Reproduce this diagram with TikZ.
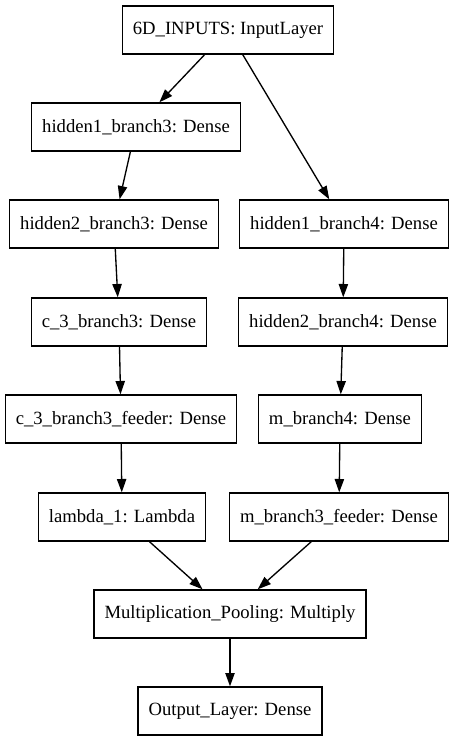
\documentclass[tikz,border=0pt]{standalone}
\usepackage{fontspec}
\setmainfont{Liberation Serif}
\usepackage{tikz}
\usetikzlibrary{arrows.meta}

\begin{document}
\begin{tikzpicture}[x=0.75pt,y=-0.75pt,
    layer/.style={draw,line width=1pt,rectangle,minimum height=36pt,
      inner xsep=7.92pt,inner ysep=0pt,font=\fontsize{14pt}{16pt}\selectfont},
    edge/.style={line width=1pt,-{Triangle[length=10pt,width=7pt]}}]
  %\draw[step=50] (0,0) grid (453,741);
  \useasboundingbox (0,0) rectangle (453,741);

  \node[layer] (inp)  at (228, 30) {6D\_INPUTS: InputLayer};

  \node[layer] (h1b3) at (136,127) {hidden1\_branch3: Dense};
  \node[layer] (h2b3) at (114,224) {hidden2\_branch3: Dense};
  \node[layer] (c3)   at (119,322) {c\_3\_branch3: Dense};
  \node[layer] (c3f)  at (121,419) {c\_3\_branch3\_feeder: Dense};
  \node[layer] (lam)  at (122,517) {lambda\_1: Lambda};

  \node[layer] (h1b4) at (344,224) {hidden1\_branch4: Dense};
  \node[layer] (h2b4) at (343,322) {hidden2\_branch4: Dense};
  \node[layer] (mb4)  at (340,419) {m\_branch4: Dense};
  \node[layer] (mb3f) at (339,517) {m\_branch3\_feeder: Dense};

  \node[layer] (mult) at (230,614) {Multiplication\_Pooling: Multiply};
  \node[layer] (out)  at (230,711) {Output\_Layer: Dense};

  \draw[edge] (inp) -- (h1b3);
  \draw[edge] (inp) -- (h1b4);
  \draw[edge] (h1b3) -- (h2b3);
  \draw[edge] (h2b3) -- (c3);
  \draw[edge] (c3) -- (c3f);
  \draw[edge] (c3f) -- (lam);
  \draw[edge] (h1b4) -- (h2b4);
  \draw[edge] (h2b4) -- (mb4);
  \draw[edge] (mb4) -- (mb3f);
  \draw[edge] (lam) -- (mult);
  \draw[edge] (mb3f) -- (mult);
  \draw[edge] (mult) -- (out);
\end{tikzpicture}
\end{document}
